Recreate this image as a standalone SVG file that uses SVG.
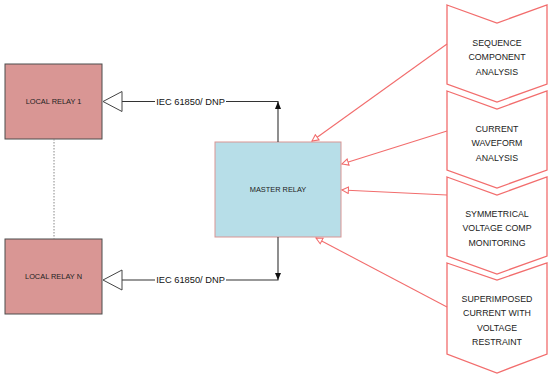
<svg xmlns="http://www.w3.org/2000/svg" width="550" height="380" viewBox="0 0 550 380">
<style>
.local{fill:#d99694;stroke:#4d4d4d;stroke-width:1}
.master{fill:#b7dee8;stroke:#d99594;stroke-width:1}
.chev{fill:#ffffff;stroke:#f26d6d;stroke-width:1.3}
.t{font-family:"Liberation Sans",Arial,sans-serif;fill:#222;text-anchor:middle}
.small{font-size:7.4px}
.ct{font-size:8.8px}
.lbl{font-size:9.3px;fill:#111}
.bl{stroke:#333;stroke-width:1.1;fill:none}
.rl{stroke:#f26d6d;stroke-width:1.1;fill:none}
</style>
<defs>
<marker id="redHollow" viewBox="0 0 10 10" refX="9" refY="5" markerWidth="8" markerHeight="8" orient="auto" markerUnits="userSpaceOnUse">
<path d="M1,1 L9,5 L1,9 Z" fill="#ffffff" stroke="#f26d6d" stroke-width="1.3"/>
</marker>
<marker id="blk" viewBox="0 0 10 10" refX="9" refY="5" markerWidth="7" markerHeight="7" orient="auto" markerUnits="userSpaceOnUse">
<path d="M0,1 L10,5 L0,9 Z" fill="#111"/>
</marker>
</defs>
<rect width="550" height="380" fill="#ffffff"/>

<g id="local1">
<rect class="local" x="5" y="64" width="97" height="75"/>
<text class="t small" x="53.5" y="104">LOCAL RELAY 1</text>
</g>
<g id="localN">
<rect class="local" x="5" y="239" width="97" height="75"/>
<text class="t small" x="53.5" y="279">LOCAL RELAY N</text>
</g>
<g id="master">
<rect class="master" x="215" y="142" width="126" height="95"/>
<text class="t small" x="278" y="191.5">MASTER RELAY</text>
</g>

<g id="seq">
<path class="chev" d="M447,5 L497,23 L547,5 L547,84 L497,102 L447,84 Z"/>
<text class="t ct" x="497" y="45.5">SEQUENCE</text>
<text class="t ct" x="497" y="60">COMPONENT</text>
<text class="t ct" x="497" y="74.5">ANALYSIS</text>
</g>
<g id="wave">
<path class="chev" d="M447,91 L497,109 L547,91 L547,170 L497,188 L447,170 Z"/>
<text class="t ct" x="497" y="131.5">CURRENT</text>
<text class="t ct" x="497" y="146">WAVEFORM</text>
<text class="t ct" x="497" y="160.5">ANALYSIS</text>
</g>
<g id="sym">
<path class="chev" d="M447,177 L497,195 L547,177 L547,256 L497,274 L447,256 Z"/>
<text class="t ct" x="497" y="216.5">SYMMETRICAL</text>
<text class="t ct" x="497" y="231">VOLTAGE COMP</text>
<text class="t ct" x="497" y="245.5">MONITORING</text>
</g>
<g id="super">
<path class="chev" d="M447,263 L497,280 L547,263 L547,354 L497,373 L447,354 Z"/>
<text class="t ct" x="497" y="301.5">SUPERIMPOSED</text>
<text class="t ct" x="497" y="316">CURRENT WITH</text>
<text class="t ct" x="497" y="330.5">VOLTAGE</text>
<text class="t ct" x="497" y="345">RESTRAINT</text>
</g>

<g id="connectors">
<line x1="54" y1="139" x2="54" y2="239" stroke="#888" stroke-width="1" stroke-dasharray="1.5,1.5"/>
<!-- top link -->
<polyline class="bl" points="278,142 278,101.5 226,101.5"/>
<line class="bl" x1="155" y1="101.5" x2="122" y2="101.5"/>
<path d="M278,101.5 L281,109 L275,109 Z" fill="#111"/>
<path d="M103,101.5 L122,91.5 L122,111.5 Z" fill="#ffffff" stroke="#444" stroke-width="1"/>
<text class="t lbl" x="190.5" y="104.8">IEC 61850/ DNP</text>
<!-- bottom link -->
<polyline class="bl" points="278,237 278,280 226,280"/>
<line class="bl" x1="155" y1="280" x2="122" y2="280"/>
<path d="M278,280 L281,273 L275,273 Z" fill="#111"/>
<path d="M103,280 L122,270 L122,290 Z" fill="#ffffff" stroke="#444" stroke-width="1"/>
<text class="t lbl" x="190.5" y="283.3">IEC 61850/ DNP</text>
<!-- red arrows -->
<line class="rl" x1="447" y1="44" x2="312" y2="141" marker-end="url(#redHollow)"/>
<line class="rl" x1="447" y1="131" x2="342" y2="164" marker-end="url(#redHollow)"/>
<line class="rl" x1="447" y1="195" x2="342" y2="190" marker-end="url(#redHollow)"/>
<line class="rl" x1="447" y1="307" x2="316" y2="238" marker-end="url(#redHollow)"/>
</g>
</svg>
